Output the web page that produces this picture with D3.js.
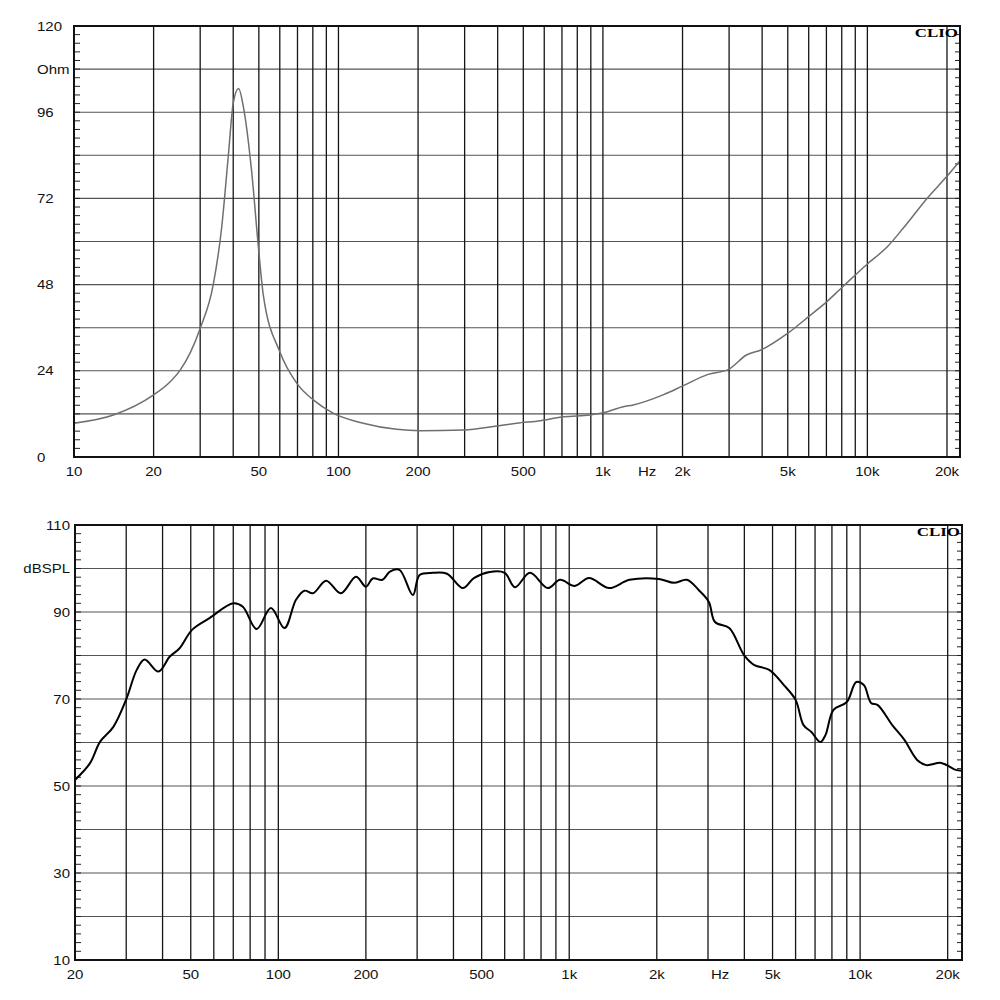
<!DOCTYPE html>
<html>
<head>
<meta charset="utf-8">
<script src="https://cdn.jsdelivr.net/npm/d3@7"></script>
<style>
  body { margin: 0; background: #fff; }
  text { font-family: "Liberation Sans", Arial, sans-serif; }
</style>
</head>
<body>
<div id="chart"></div>
<script>
// impedance curve (Hz, Ohm)
const impCurve = [
  [10, 9.4], [14.1, 11.7], [20, 17.3], [23, 20.8], [25.2, 24.2], [27.5, 29], [30, 35.8], [33.6, 47.9],
  [36.2, 64.1], [38.3, 83.6], [40, 98.5], [41.9, 102.6], [43.7, 97.5], [46.9, 79.9],
  [49.8, 58.5], [52, 45], [60, 29.3], [69.6, 20.5], [80.3, 15.9], [95, 12.3],
  [124, 9.4], [166, 7.7], [204, 7.3], [297, 7.5], [397, 8.6], [472, 9.4], [581, 10.1],
  [711, 11.2], [893, 11.7], [1003, 12.3], [1194, 14], [1302, 14.5], [1688, 17.3],
  [2005, 19.8], [2500, 23], [2987, 24.4], [3490, 28.4], [3960, 29.8], [4990, 34.4],
  [6090, 39.5], [7010, 43.2], [7960, 47], [9950, 53.6], [11920, 58.6], [13700, 63.8],
  [16900, 72.2], [19800, 77.8], [22400, 82.5]
];

// SPL curve (Hz, dB)
const splCurve = [
  [20, 51.4], [22.5, 55.2], [24.4, 60.2], [27.1, 63.6], [30, 69.9], [32.6, 76.7],
  [34.7, 79.1], [38.7, 76.3], [42.3, 79.7], [45.7, 81.6], [50.5, 85.9], [58, 88.6],
  [70, 92.0], [75.5, 91.2], [84.2, 86.1], [94.3, 90.9], [105, 86.3], [115, 92.8],
  [123, 94.9], [131.6, 94.3], [146, 97.2], [164, 94.3], [185, 98.1], [200, 95.8],
  [211, 97.7], [228, 97.4], [242, 99.3], [261, 99.7], [290, 93.9], [306, 98.5],
  [340, 99], [380, 98.8], [431, 95.5], [470, 97.8], [533, 99.2], [600, 99],
  [651, 95.7], [733, 99], [844, 95.5], [930, 97.4], [1044, 96], [1170, 97.8],
  [1372, 95.5], [1612, 97.4], [2035, 97.6], [2290, 96.7], [2540, 97.4], [2790, 95],
  [3020, 92.3], [3170, 87.7], [3550, 86.3], [3990, 80.1], [4330, 77.8], [4870, 76.7],
  [5470, 73.2], [6000, 69.8], [6390, 64], [6800, 62.4], [7300, 60.1], [7600, 61.7],
  [8100, 67.5], [9000, 69.3], [9700, 73.9], [10300, 73.2], [10900, 69.1], [11500, 68.6],
  [12900, 64], [14200, 60.6], [15700, 56], [16900, 54.8], [19000, 55.3], [21300, 53.7],
  [22400, 53.5]
];

const impYTicks = [0, 24, 48, 72, 96, 120];
const splYTicks = [10, 30, 50, 70, 90, 110];
const impXLabels = [[10, "10"], [20, "20"], [50, "50"], [100, "100"], [200, "200"], [500, "500"],
  [1000, "1k"], [1470, "Hz"], [2000, "2k"], [5000, "5k"], [10000, "10k"], [20000, "20k"]];
const splXLabels = [[20, "20"], [50, "50"], [100, "100"], [200, "200"], [500, "500"],
  [1000, "1k"], [2000, "2k"], [3300, "Hz"], [5000, "5k"], [10000, "10k"], [20000, "20k"]];

// all decade lines 20 .. 20k
const gridFreqs = [];
[10, 100, 1000, 10000].forEach(dec => {
  for (let m = 1; m <= 9; m++) {
    const f = dec * m;
    if (f > 10 && f <= 20000) gridFreqs.push(f);
  }
});

const svg = d3.select("#chart").append("svg")
  .attr("width", 1000).attr("height", 1000);

const SX = 1.2; // text is stretched horizontally in the original

function stretchedText(g, x, y, str, anchor, size, extra) {
  const t = g.append("text")
    .attr("transform", `translate(${x},${y}) scale(${SX},1)`)
    .attr("text-anchor", anchor)
    .attr("font-size", size)
    .attr("fill", "#111")
    .text(str);
  if (extra) extra(t);
  return t;
}

function drawPanel(cfg) {
  const x = d3.scaleLog().domain([cfg.fMin, 22400]).range([cfg.left, cfg.right]);
  const y = d3.scaleLinear().domain([cfg.yMin, cfg.yMax]).range([cfg.bottom, cfg.top]);
  const g = svg.append("g");

  // horizontal grid
  d3.range(cfg.yMin + cfg.yStep, cfg.yMax, cfg.yStep).forEach(v => {
    g.append("line")
      .attr("x1", cfg.left).attr("x2", cfg.right)
      .attr("y1", y(v)).attr("y2", y(v))
      .attr("stroke", "#555").attr("stroke-width", 1.1);
  });

  // vertical grid
  gridFreqs.filter(f => f > cfg.fMin).forEach(f => {
    g.append("line")
      .attr("x1", x(f)).attr("x2", x(f))
      .attr("y1", cfg.top).attr("y2", cfg.bottom)
      .attr("stroke", "#151515").attr("stroke-width", 1.3);
  });

  // minor ticks, both sides
  const minor = cfg.yStep / 5;
  d3.range(cfg.yMin, cfg.yMax + 0.001, minor).forEach(v => {
    g.append("line")
      .attr("x1", cfg.left).attr("x2", cfg.left + 6)
      .attr("y1", y(v)).attr("y2", y(v))
      .attr("stroke", "#222").attr("stroke-width", 1);
    g.append("line")
      .attr("x1", cfg.right - 5).attr("x2", cfg.right)
      .attr("y1", y(v)).attr("y2", y(v))
      .attr("stroke", "#222").attr("stroke-width", 1);
  });

  // curve
  const line = d3.line()
    .x(d => x(d[0])).y(d => y(d[1]))
    .curve(cfg.curve);
  g.append("path")
    .datum(cfg.data)
    .attr("d", line)
    .attr("fill", "none")
    .attr("stroke", cfg.color)
    .attr("stroke-width", cfg.width)
    .attr("stroke-linejoin", "round");

  // frame
  g.append("rect")
    .attr("x", cfg.left).attr("y", cfg.top)
    .attr("width", cfg.right - cfg.left).attr("height", cfg.bottom - cfg.top)
    .attr("fill", "none").attr("stroke", "#111").attr("stroke-width", 2);

  // y labels
  cfg.yTicks.forEach(v => {
    stretchedText(g, cfg.yLabelX, y(v) + 4.5, String(v), cfg.yAnchor, 12.5);
  });
  stretchedText(g, cfg.yLabelX, y(cfg.unitAt) + 4.5, cfg.unit, cfg.yAnchor, 12.5);

  // x labels
  cfg.xLabels.forEach(d => {
    stretchedText(g, x(d[0]), cfg.xLabelY, d[1], "middle", 12.5);
  });

  // CLIO mark
  stretchedText(g, cfg.right - 2, cfg.top + 11, "CLIO", "end", 13, t => t
    .attr("transform", `translate(${cfg.right - 2},${cfg.top + 11}) scale(1.3,1)`)
    .style("font-family", "'Liberation Serif', 'DejaVu Serif', serif")
    .attr("font-weight", "bold")
    .attr("fill", "#000"));
}

drawPanel({
  data: impCurve, fMin: 10,
  left: 74, right: 960, top: 26, bottom: 457,
  yMin: 0, yMax: 120, yStep: 12,
  yTicks: impYTicks, unit: "Ohm", unitAt: 108,
  yLabelX: 37, yAnchor: "start",
  xLabels: impXLabels, xLabelY: 476,
  color: "#6f6f6f", width: 1.5,
  curve: d3.curveMonotoneX
});

drawPanel({
  data: splCurve, fMin: 20,
  left: 75, right: 962, top: 525, bottom: 960,
  yMin: 10, yMax: 110, yStep: 10,
  yTicks: splYTicks, unit: "dBSPL", unitAt: 100,
  yLabelX: 70, yAnchor: "end",
  xLabels: splXLabels, xLabelY: 979,
  color: "#000", width: 2,
  curve: d3.curveCatmullRom.alpha(0.5)
});
</script>
</body>
</html>
